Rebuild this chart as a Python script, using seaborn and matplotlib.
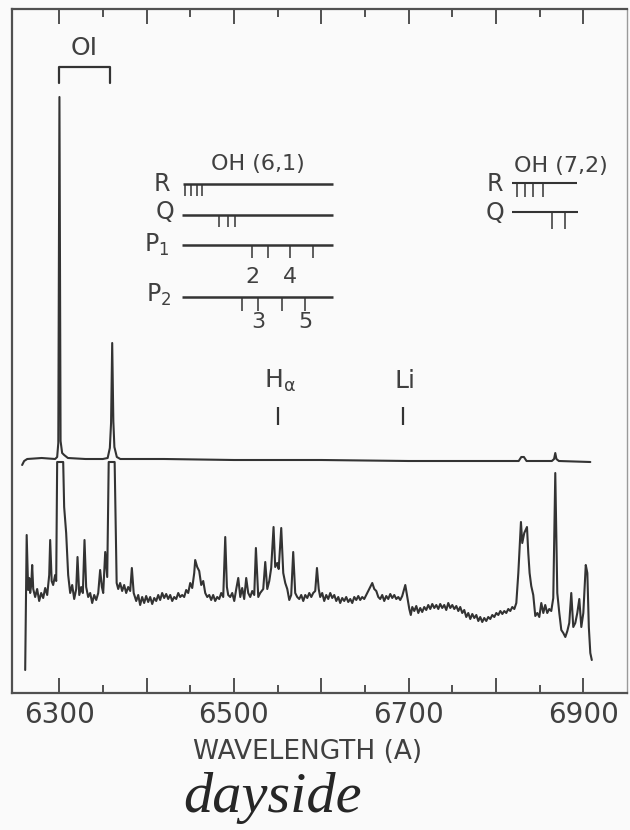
import matplotlib
matplotlib.use("Agg")
import matplotlib.pyplot as plt
import seaborn as sns
import numpy as np

# --- upper trace (low gain): wavelength (A) / pen height (arb.)
upper_wl = [6257.6, 6259.9, 6263.4, 6280.0, 6295.4, 6297.7, 6299.0, 6300.3, 6301.6,
            6303.4, 6305.7, 6310.0, 6330.0, 6350.0, 6355.5, 6358.0, 6359.4, 6360.7,
            6362.0, 6363.2, 6366.0, 6370.0, 6420.0, 6500.0, 6600.0, 6700.0, 6800.0,
            6826.0, 6829.0, 6832.0, 6835.0, 6864.0, 6866.5, 6867.9, 6869.2, 6872.0, 6908.0]
upper_int = [228, 232, 234, 235, 234, 236, 250, 596, 252,
             240, 238, 235, 234, 234, 235, 245, 270, 350,
             272, 246, 236, 234, 234, 233, 233, 232, 232,
             232, 236, 236, 232, 232, 234, 240, 234, 232, 231]

# --- lower trace (high gain)
lower_wl = [
    6261.1, 6262.8, 6264.5, 6265.7, 6266.8, 6268.0, 6269.1, 6270.3, 6272.5, 6274.8,
    6277.1, 6279.4, 6281.7, 6284.0, 6286.3, 6288.6, 6289.7, 6291.4, 6293.1, 6295.4,
    6296.6, 6297.7, 6304.6, 6305.7, 6308.0, 6310.3, 6312.6, 6314.9, 6317.2, 6319.5,
    6321.0, 6323.0, 6325.2, 6327.1, 6329.0, 6330.9, 6333.2, 6335.5, 6337.8, 6340.1,
    6342.4, 6344.7, 6346.9, 6348.9, 6350.4, 6352.7, 6355.0, 6356.7, 6363.5, 6365.8,
    6367.6, 6369.8, 6372.1, 6374.4, 6376.7, 6379.0, 6381.3, 6383.2, 6385.3, 6388.2,
    6390.5, 6392.7, 6395.0, 6397.3, 6399.6, 6401.9, 6404.2, 6406.5, 6408.8, 6411.1,
    6413.4, 6415.6, 6417.9, 6420.2, 6422.5, 6424.8, 6427.1, 6429.4, 6431.7, 6434.0,
    6436.3, 6438.5, 6440.8, 6443.1, 6445.4, 6447.7, 6450.0, 6452.3, 6454.6, 6455.7,
    6458.0, 6460.3, 6462.6, 6464.9, 6467.2, 6469.5, 6471.8, 6474.0, 6476.3, 6478.6,
    6480.9, 6483.2, 6485.5, 6487.8, 6490.1, 6492.0, 6493.5, 6495.8, 6498.1, 6500.4,
    6502.7, 6505.0, 6507.3, 6509.5, 6511.8, 6514.1, 6516.4, 6518.7, 6521.0, 6523.3,
    6525.2, 6527.9, 6530.1, 6533.6, 6535.9, 6538.2, 6540.5, 6542.7, 6545.4, 6547.3,
    6549.6, 6551.3, 6554.2, 6556.5, 6558.8, 6561.1, 6563.4, 6565.6, 6567.9, 6570.2,
    6572.5, 6574.8, 6577.1, 6579.4, 6581.7, 6584.0, 6586.3, 6588.6, 6590.8, 6593.1,
    6595.1, 6597.1, 6598.8, 6601.1, 6603.4, 6605.7, 6608.0, 6610.3, 6612.6, 6614.9,
    6617.2, 6619.5, 6621.7, 6624.0, 6626.3, 6628.6, 6630.9, 6633.2, 6635.5, 6637.8,
    6640.1, 6642.4, 6644.6, 6646.9, 6649.2, 6651.5, 6653.8, 6656.1, 6658.4, 6660.7,
    6663.0, 6665.3, 6667.5, 6669.8, 6672.1, 6674.4, 6676.7, 6679.0, 6681.3, 6683.6,
    6685.9, 6688.2, 6690.4, 6692.7, 6696.2, 6698.5, 6700.8, 6702.5, 6704.2, 6706.5,
    6708.8, 6711.1, 6713.3, 6715.6, 6717.9, 6720.2, 6722.5, 6724.8, 6727.1, 6729.4,
    6731.7, 6734.0, 6736.2, 6738.5, 6740.8, 6743.1, 6745.4, 6747.7, 6750.0, 6752.3,
    6754.6, 6756.9, 6759.1, 6761.4, 6763.7, 6766.0, 6768.3, 6770.6, 6772.9, 6775.2,
    6777.5, 6779.8, 6782.0, 6784.3, 6786.6, 6788.9, 6791.2, 6793.5, 6795.8, 6798.1,
    6800.4, 6802.7, 6805.0, 6807.3, 6809.5, 6811.8, 6814.1, 6816.4, 6818.7, 6821.0,
    6823.3, 6825.6, 6828.6, 6830.1, 6832.4, 6835.5, 6837.0, 6838.5, 6840.4, 6842.7,
    6845.0, 6847.3, 6849.6, 6851.9, 6854.2, 6856.4, 6858.7, 6861.0, 6863.3, 6865.6,
    6867.9, 6870.2, 6872.5, 6874.8, 6877.1, 6879.4, 6881.7, 6883.9, 6886.2, 6888.5,
    6890.8, 6893.1, 6895.4, 6897.7, 6900.0, 6902.8, 6904.6, 6906.3, 6908.0, 6909.7]
lower_int = [
    23, 158, 103, 115, 100, 108, 128, 104, 96, 104,
    92, 100, 95, 105, 98, 118, 153, 112, 108, 118,
    112, 231, 231, 186, 160, 118, 100, 108, 94, 104,
    136, 98, 106, 100, 153, 106, 96, 100, 90, 98,
    93, 100, 123, 106, 100, 141, 116, 231, 231, 110,
    104, 110, 102, 108, 100, 106, 102, 125, 100, 92,
    98, 88, 96, 90, 97, 91, 96, 89, 95, 92,
    98, 93, 100, 95, 99, 94, 98, 92, 96, 94,
    100, 96, 98, 96, 103, 100, 110, 105, 120, 133,
    126, 122, 108, 112, 100, 96, 98, 93, 98, 92,
    96, 94, 100, 96, 156, 106, 98, 96, 100, 92,
    104, 115, 96, 105, 94, 115, 100, 96, 102, 98,
    145, 96, 100, 104, 131, 104, 112, 125, 166, 126,
    130, 124, 165, 120, 110, 104, 93, 98, 141, 100,
    96, 94, 98, 92, 98, 95, 100, 96, 100, 102,
    125, 104, 96, 100, 92, 98, 94, 100, 95, 98,
    92, 96, 90, 95, 92, 96, 91, 94, 90, 96,
    93, 97, 93, 96, 94, 98, 102, 106, 110, 104,
    102, 96, 94, 98, 92, 97, 94, 99, 95, 98,
    94, 96, 93, 97, 108, 96, 84, 78, 86, 82,
    87, 80, 85, 81, 86, 83, 88, 84, 89, 85,
    88, 84, 89, 85, 88, 83, 90, 85, 88, 84,
    87, 82, 86, 80, 83, 76, 80, 74, 79, 75,
    78, 72, 76, 71, 75, 72, 76, 74, 78, 76,
    80, 78, 82, 79, 82, 80, 84, 82, 86, 84,
    90, 120, 171, 150, 160, 166, 140, 120, 107, 98,
    77, 80, 76, 90, 80, 88, 80, 84, 82, 95,
    220, 100, 80, 63, 60, 56, 62, 70, 100, 66,
    70, 80, 94, 66, 80, 128, 120, 66, 40, 33]

# --- line identifications
oh61_r = [6444.3, 6450.8, 6457.2, 6463.7]
oh61_q = [6483.5, 6492.7, 6501.5]
oh61_p1 = [6521.0, 6539.3, 6564.5, 6590.8]
oh61_p2 = [6509.5, 6527.9, 6555.3, 6581.7]
oh72_r = [6824.4, 6833.6, 6842.7, 6854.2]
oh72_q = [6864.5, 6879.4]
oi_lines = [6300.0, 6358.4]
atom_marks = {"H$_\\alpha$": 6551.0, "Li": 6693.9}

xticks_major = [6300, 6400, 6500, 6600, 6700, 6800, 6900]
xtick_labels = ["6300", "", "6500", "", "6700", "", "6900"]
xticks_minor = [6350, 6450, 6550, 6650, 6750, 6850]

INK = "#333333"
TXT = "#404040"
BG = "#fafafa"

sns.set_theme(style="ticks")
plt.rcParams["font.family"] = ["DejaVu Sans"]
plt.rcParams["mathtext.fontset"] = "dejavusans"
plt.rcParams["mathtext.default"] = "regular"

fig = plt.figure(figsize=(6.3, 8.3), dpi=100, facecolor=BG)
ax = fig.add_axes([12 / 630, 1 - 693 / 830, 615 / 630, 684 / 830])
ax.set_facecolor(BG)

sns.lineplot(x=upper_wl, y=upper_int, ax=ax, sort=False, estimator=None,
             color=INK, lw=1.5)
sns.lineplot(x=lower_wl, y=lower_int, ax=ax, sort=False, estimator=None,
             color=INK, lw=1.5)

ax.set_xlim(6246, 6950)
ax.set_ylim(0, 684)
ax.set_yticks([])
ax.set_xticks(xticks_major)
ax.set_xticklabels(xtick_labels)
ax.set_xticks(xticks_minor, minor=True)
ax.tick_params(axis="x", which="both", direction="in", top=True, bottom=True,
               width=1.4, color="#505050", labelsize=20, labelcolor=TXT, pad=6)
ax.tick_params(axis="x", which="major", length=10.5)
ax.tick_params(axis="x", which="minor", length=6)
for side in ["left", "top", "bottom"]:
    ax.spines[side].set_color("#505050")
    ax.spines[side].set_linewidth(1.6)
ax.spines["right"].set_color("#9a9a9a")
ax.spines["right"].set_linewidth(1.0)

ax.set_xlabel("WAVELENGTH (A)", fontsize=19, color=TXT, labelpad=7, x=0.48)

# OI bracket
ax.plot([oi_lines[0], oi_lines[0], oi_lines[1], oi_lines[1]], [610, 626, 626, 610],
        color=INK, lw=1.6)
ax.text(sum(oi_lines) / 2, 645, "OI", ha="center", va="center", fontsize=18, color=TXT)

# OH (6,1) band
lw_bar = 1.8
bar_lo, bar_hi = 6441, 6614
rows = [("R", 509, oh61_r, 12), ("Q", 478, oh61_q, 12),
        ("P$_1$", 448, oh61_p1, 13), ("P$_2$", 396, oh61_p2, 14)]
for lab, yy, lines, tl in rows:
    ax.hlines(yy, bar_lo if lab != "R" else 6442, bar_hi, color=INK, lw=lw_bar)
    ax.vlines(lines, yy - tl, yy, color=INK, lw=1.1)
ax.text(6418, 509, "R", ha="center", va="center", fontsize=17, color=TXT)
ax.text(6421, 481, "Q", ha="center", va="center", fontsize=17, color=TXT)
ax.text(6412, 448, "P$_1$", ha="center", va="center", fontsize=17, color=TXT)
ax.text(6414, 398, "P$_2$", ha="center", va="center", fontsize=17, color=TXT)
ax.text(6528, 529, "OH (6,1)", ha="center", va="center", fontsize=16, color=TXT)
ax.text(oh61_p1[0], 416, "2", ha="center", va="center", fontsize=16, color=TXT)
ax.text(oh61_p1[2], 416, "4", ha="center", va="center", fontsize=16, color=TXT)
ax.text(oh61_p2[1], 371, "3", ha="center", va="center", fontsize=16, color=TXT)
ax.text(oh61_p2[3], 371, "5", ha="center", va="center", fontsize=16, color=TXT)

# OH (7,2) band
ax.hlines(510, 6818.7, 6893.1, color=INK, lw=1.5)
ax.vlines(oh72_r, 496, 510, color=INK, lw=1.1)
ax.hlines(481, 6818.7, 6894.0, color=INK, lw=1.5)
ax.vlines(oh72_q, 464, 481, color=INK, lw=1.1)
ax.text(6799, 509, "R", ha="center", va="center", fontsize=17, color=TXT)
ax.text(6799, 480, "Q", ha="center", va="center", fontsize=17, color=TXT)
ax.text(6874, 527, "OH (7,2)", ha="center", va="center", fontsize=16, color=TXT)

# H-alpha and Li markers
for lab, wl in atom_marks.items():
    ax.vlines(wl, 268, 286, color=INK, lw=1.6)
    ax.text(wl + 2, 312, lab, ha="center", va="center", fontsize=18, color=TXT)

fig.text(272 / 630, 1 - 798 / 830, "dayside", ha="center", va="center",
         fontsize=42, style="italic", family=["Liberation Serif"], color="#262626")

fig.savefig("out.png", dpi=100, facecolor=BG)
